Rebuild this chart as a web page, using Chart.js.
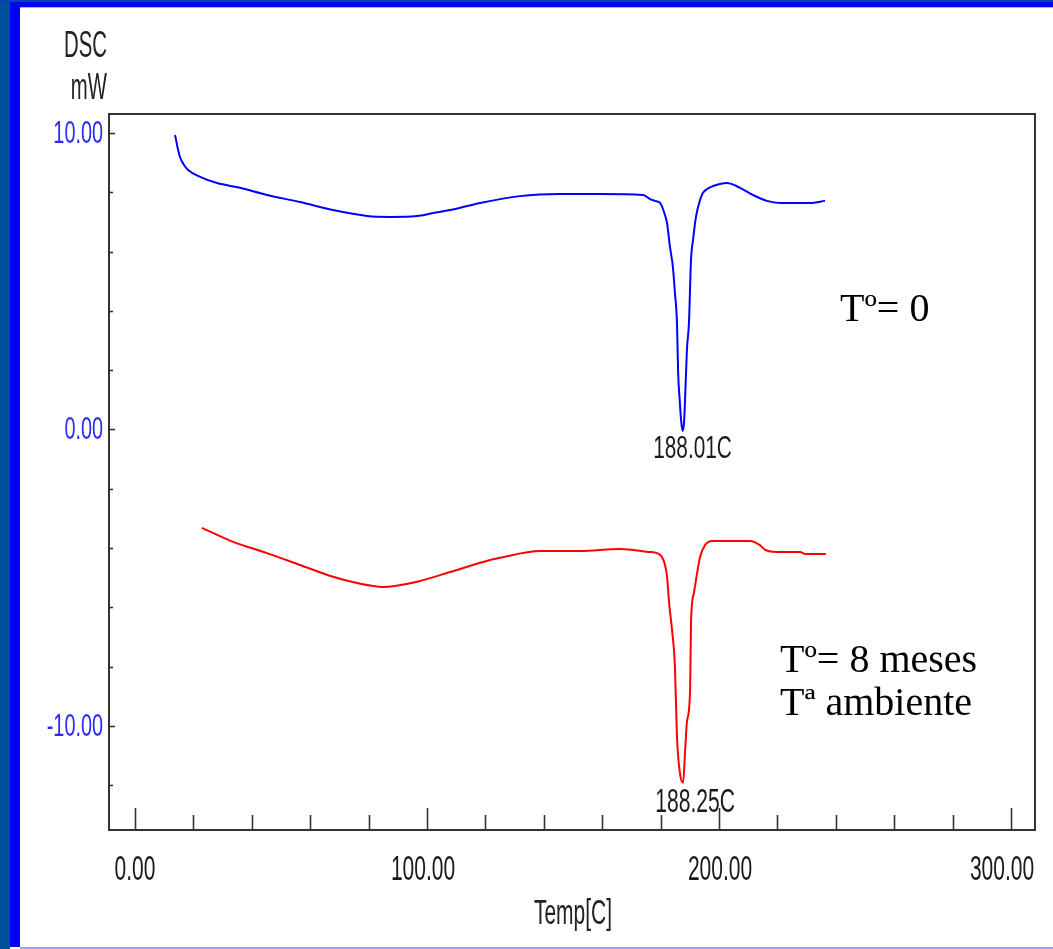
<!DOCTYPE html>
<html>
<head>
<meta charset="utf-8">
<script src="https://cdn.jsdelivr.net/npm/chart.js@4"></script>
<style>
  html, body { margin:0; padding:0; background:#ffffff; width:1053px; height:949px; overflow:hidden; }
  .b { position:absolute; }
  #wrap { position:absolute; left:0; top:0; width:1053px; height:949px; }
</style>
</head>
<body>
<div class="b" style="left:0;top:0;width:10px;height:949px;background:#00509c;"></div>
<div class="b" style="left:10px;top:0;width:10px;height:947px;background:#0000ff;"></div>
<div class="b" style="left:0;top:0;width:1053px;height:2px;background:#0046b0;"></div>
<div class="b" style="left:10px;top:2px;width:1043px;height:5px;background:#0000f4;"></div>
<div class="b" style="left:20px;top:7px;width:1033px;height:1px;background:#b0b0ff;"></div>
<div class="b" style="left:20px;top:947px;width:1033px;height:2px;background:#a0a0ff;"></div>
<div id="wrap"><canvas id="c" width="1053" height="949"></canvas></div>
<script>
// ---- data ----
const blueX = [13.7,14.0,14.6,15.4,16.8,18.2,22.3,28.1,36.0,45.2,56.5,67.8,79.5,87.3,96.6,102.1,107.9,118.2,131.8,145.5,159.2,174.0,176.4,178.1,179.8,181.5,182.2,183.2,184.2,184.9,185.6,186.0,186.6,187.0,187.5,188.0,188.4,189.0,189.7,190.4,191.1,192.1,193.5,194.5,195.9,197.9,200.3,202.7,207.2,211.6,216.4,220.9,225.3,231.2,236.3];
const blueY = [9.93,9.80,9.50,9.19,8.92,8.75,8.52,8.31,8.15,7.91,7.67,7.40,7.20,7.17,7.20,7.30,7.40,7.64,7.87,7.94,7.94,7.91,7.77,7.71,7.64,7.23,6.96,6.16,5.48,4.60,3.59,1.91,0.89,0.32,-0.05,0.22,1.10,2.68,3.59,5.72,6.39,7.17,7.74,7.98,8.11,8.21,8.28,8.31,8.15,7.91,7.71,7.64,7.64,7.64,7.71];
const redX = [22.9,33.6,45.2,56.5,67.8,76.0,84.9,89.0,96.6,107.9,119.2,125.0,138.7,152.4,166.1,175.7,179.8,181.5,182.2,182.9,183.9,184.9,185.6,186.6,187.7,188.4,189.0,190.1,190.4,191.4,192.5,193.5,195.2,197.6,203.8,210.6,214.0,215.8,219.9,227.7,229.5,236.6];
const redY = [-3.32,-3.79,-4.17,-4.57,-4.97,-5.18,-5.31,-5.28,-5.14,-4.81,-4.47,-4.33,-4.10,-4.10,-4.03,-4.13,-4.23,-4.57,-4.97,-5.85,-6.76,-8.01,-10.37,-11.58,-11.92,-10.81,-9.87,-8.79,-6.53,-5.51,-4.84,-4.30,-3.90,-3.76,-3.76,-3.76,-3.90,-4.06,-4.13,-4.13,-4.20,-4.20];

const xTickValues = [0,20,40,60,80,100,120,140,160,180,200,220,240,260,280,300];
const xLabelValues = [0,100,200,300];
const xTickLabels = ['0.00','100.00','200.00','300.00'];
const yTickValues = [10,8,6,4,2,0,-2,-4,-6,-8,-10,-12];
const yLabelValues = [10,0,-10];
const yTickLabels = ['10.00','0.00','-10.00'];

const peaks = [
  {x:187.5, y:-0.05, label:'188.01C'},
  {x:187.7, y:-11.92, label:'188.25C'}
];
const notes = ['T\u00BA= 0', 'T\u00BA= 8 meses', 'T\u00AA ambiente'];
const axisTitles = {y1:'DSC', y2:'mW', x:'Temp[C]'};

function condText(ctx, text, x, y, size, sx, align, color) {
  ctx.save();
  ctx.font = size + 'px "Liberation Sans", Arial, sans-serif';
  ctx.fillStyle = color;
  ctx.textBaseline = 'middle';
  ctx.translate(x, y);
  ctx.scale(sx, 1);
  ctx.textAlign = align;
  ctx.fillText(text, 0, 0);
  ctx.restore();
}

const xLabelShift = [0, -4, 1, -9];

const decor = {
  id: 'decor',
  afterDraw(chart) {
    const ctx = chart.ctx;
    const a = chart.chartArea;
    const xs = chart.scales.x, ys = chart.scales.y;
    ctx.save();
    ctx.strokeStyle = '#333333';
    ctx.lineWidth = 2;
    ctx.strokeRect(a.left, a.top, a.right - a.left, a.bottom - a.top);
    ctx.lineWidth = 1.6;
    xs.ticks.forEach(t => {
      const px = Math.round(xs.getPixelForValue(t.value)) + 0.5;
      const major = xLabelValues.includes(t.value);
      const len = major ? 22 : 15;
      ctx.beginPath();
      ctx.moveTo(px, a.bottom);
      ctx.lineTo(px, a.bottom - len);
      ctx.stroke();
    });
    ys.ticks.forEach(t => {
      const py = Math.round(ys.getPixelForValue(t.value)) + 0.5;
      const major = yLabelValues.includes(t.value);
      const len = major ? 6 : 4;
      ctx.beginPath();
      ctx.moveTo(a.left, py);
      ctx.lineTo(a.left + len, py);
      ctx.stroke();
    });
    ctx.restore();
    xLabelValues.forEach((v, i) => {
      condText(ctx, xTickLabels[i], xs.getPixelForValue(v) + xLabelShift[i], 870, 35, 0.6, 'center', '#1a1a1a');
    });
    yLabelValues.forEach((v, i) => {
      condText(ctx, yTickLabels[i], 103, ys.getPixelForValue(v) + 1, 32, 0.62, 'right', '#2a2aff');
    });
    condText(ctx, axisTitles.y1, 107, 47, 37, 0.55, 'right', '#222222');
    condText(ctx, axisTitles.y2, 107, 89, 37, 0.55, 'right', '#222222');
    condText(ctx, axisTitles.x, 573, 914, 35, 0.6, 'center', '#222222');
    condText(ctx, peaks[0].label, xs.getPixelForValue(peaks[0].x) + 10, ys.getPixelForValue(peaks[0].y) + 18, 32, 0.65, 'center', '#1a1a1a');
    condText(ctx, peaks[1].label, xs.getPixelForValue(peaks[1].x) + 12, ys.getPixelForValue(peaks[1].y) + 20, 34, 0.62, 'center', '#1a1a1a');
    ctx.save();
    ctx.fillStyle = '#000000';
    ctx.textBaseline = 'alphabetic';
    ctx.textAlign = 'left';
    ctx.font = '40px "Liberation Serif", "Times New Roman", serif';
    ctx.fillText(notes[0], 840, 321);
    ctx.fillText(notes[1], 780, 672);
    ctx.fillText(notes[2], 780, 715);
    ctx.restore();
  }
};

const toPts = (xa, ya) => xa.map((x, i) => ({x: x, y: ya[i]}));

new Chart(document.getElementById('c'), {
  type: 'line',
  data: {
    datasets: [
      { label: 'T0', data: toPts(blueX, blueY), borderColor: '#0000ff', borderWidth: 2, pointRadius: 0, fill: false, cubicInterpolationMode: 'monotone' },
      { label: 'T8', data: toPts(redX, redY), borderColor: '#ff0000', borderWidth: 2, pointRadius: 0, fill: false, cubicInterpolationMode: 'monotone' }
    ]
  },
  options: {
    responsive: false,
    animation: false,
    events: [],
    layout: { padding: { left: 0, top: 114, right: 18, bottom: 0 } },
    plugins: { legend: { display: false }, tooltip: { enabled: false } },
    scales: {
      x: {
        type: 'linear', min: -8.9, max: 308.2,
        grid: { display: false }, border: { display: false },
        ticks: { display: false },
        afterBuildTicks: s => { s.ticks = xTickValues.map(v => ({value: v})); },
        afterFit: s => { s.height = 119; }
      },
      y: {
        type: 'linear', min: -13.51, max: 10.64,
        grid: { display: false }, border: { display: false },
        ticks: { display: false },
        afterBuildTicks: s => { s.ticks = yTickValues.map(v => ({value: v})); },
        afterFit: s => { s.width = 109; }
      }
    }
  },
  plugins: [decor]
});
</script>
</body>
</html>
